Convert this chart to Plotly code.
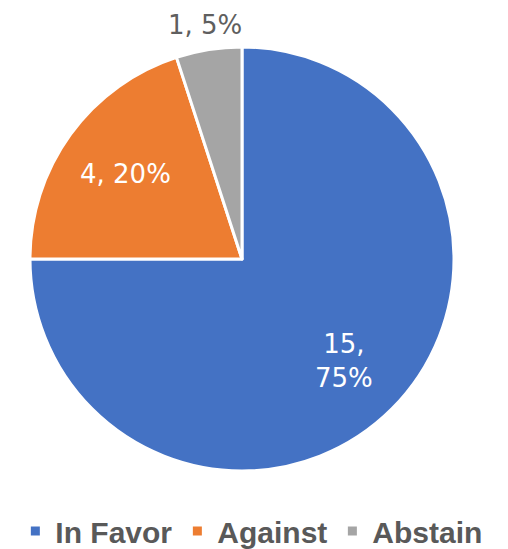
import math
import plotly.graph_objects as go

labels = ["In Favor", "Against", "Abstain"]
values = [15, 4, 1]
colors = ["#4472C4", "#ED7D31", "#A5A5A5"]
label_inside = [True, True, False]

total = sum(values)
texts = []
for i, v in enumerate(values):
    pct = round(100 * v / total)
    sep = ",<br>" if i == 0 else ", "
    texts.append(f"{v}{sep}{pct}%")

W, H = 508, 549
cx, cy, r = 234, 251, 212  # pie placement in pixels (page adds 8px body margin)
dom_x = [(cx - r) / W, (cx + r) / W]
dom_y = [(H - (cy + r)) / H, (H - (cy - r)) / H]

fig = go.Figure(go.Pie(
    labels=labels,
    values=values,
    textinfo="none",
    sort=False,
    direction="clockwise",
    rotation=0,
    marker=dict(colors=colors, line=dict(color="white", width=3)),
    domain=dict(x=dom_x, y=dom_y),
    hoverinfo="label+value+percent",
))

# data labels placed along each slice's mid-angle (clockwise from 12 o'clock)
cum = 0
for v, t, inside in zip(values, texts, label_inside):
    mid = (cum + v / 2) / total * 2 * math.pi
    cum += v
    dist = 0.68 * r if inside else r + 25
    px = cx + dist * math.sin(mid)
    py = cy - dist * math.cos(mid)
    fig.add_annotation(
        x=px / W, y=1 - py / H, xref="paper", yref="paper",
        xanchor="center", yanchor="middle",
        text=t, showarrow=False,
        font=dict(color="white" if inside else "#5f5f5f", size=26, family="DejaVu Sans"),
    )

fig.update_layout(
    width=W, height=H,
    margin=dict(l=0, r=0, t=0, b=0),
    paper_bgcolor="white",
    showlegend=True,
    legend=dict(
        orientation="h", x=0.48, xanchor="center", y=0.0, yanchor="bottom",
        font=dict(family="Liberation Sans", size=30, color="#595959", weight="bold"),
        itemwidth=30,
    ),
)

fig.write_html("out.html")
